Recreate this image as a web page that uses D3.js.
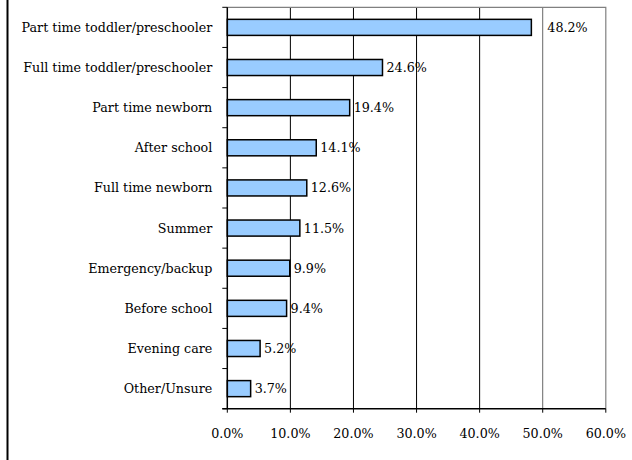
<!DOCTYPE html>
<html><head><meta charset="utf-8">
<script src="https://cdn.jsdelivr.net/npm/d3@7"></script>
<style>body{margin:0;background:#fff}svg{display:block}</style>
</head><body>
<script>
const categories = ["Part time toddler/preschooler","Full time toddler/preschooler","Part time newborn","After school","Full time newborn","Summer","Emergency/backup","Before school","Evening care","Other/Unsure"];
const values = [48.2, 24.6, 19.4, 14.1, 12.6, 11.5, 9.9, 9.4, 5.2, 3.7];
const xTicks = [0, 10, 20, 30, 40, 50, 60];

const W = 632, H = 460;
const m = {left: 227.3, right: 632 - 605.8, top: 7.3, bottom: 460 - 408.7};
const font = "'DejaVu Serif', serif";
const fs = 12.7;

const svg = d3.select("body").append("svg").attr("width", W).attr("height", H);

const x = d3.scaleLinear().domain([0, 60]).range([m.left, W - m.right]);
const y = d3.scaleBand().domain(categories).range([m.top, H - m.bottom]).paddingInner(0.6).paddingOuter(0.3);
const yb = d3.scaleBand().domain(categories).range([m.top, H - m.bottom]);

// left chart border
svg.append("line").attr("x1", 7.5).attr("x2", 7.5).attr("y1", 0).attr("y2", H)
  .attr("stroke", "#000").attr("stroke-width", 2);

// gridlines
svg.append("g").selectAll("line").data(xTicks.filter(d => d > 0 && d < 60)).join("line")
  .attr("x1", d => x(d)).attr("x2", d => x(d))
  .attr("y1", m.top).attr("y2", H - m.bottom)
  .attr("stroke", d => d === 50 ? "#666" : "#000").attr("stroke-width", 1);

// plot border top/right
svg.append("path")
  .attr("d", `M${x(0)},${m.top}H${x(60)}V${H - m.bottom}`)
  .attr("fill", "none").attr("stroke", "#808080").attr("stroke-width", 1.2);

// bars
svg.append("g").selectAll("rect").data(values).join("rect")
  .attr("x", x(0)).attr("y", (d, i) => y(categories[i]))
  .attr("width", d => x(d) - x(0)).attr("height", y.bandwidth())
  .attr("fill", "#99ccff").attr("stroke", "#000").attr("stroke-width", 1.5);

// value labels
const vmax = d3.max(values);
svg.append("g").selectAll("text").data(values).join("text")
  .attr("x", d => x(d) + (d === vmax ? 16 : 4))
  .attr("y", (d, i) => y(categories[i]) + y.bandwidth() / 2)
  .attr("dy", "0.35em")
  .attr("font-family", font).attr("font-size", fs).attr("fill", "#000")
  .text(d => d.toFixed(1) + "%");

// y axis
const yAxis = svg.append("g").attr("transform", `translate(${x(0)},0)`);
yAxis.append("line").attr("x1", 0).attr("x2", 0).attr("y1", m.top).attr("y2", H - m.bottom).attr("stroke", "#000").attr("stroke-width", 1.5);
const yTickPos = categories.map(c => yb(c)).concat([H - m.bottom]);
yAxis.selectAll(".yt").data(yTickPos).join("line").attr("class", "yt")
  .attr("x1", -5).attr("x2", 0).attr("y1", d => d).attr("y2", d => d)
  .attr("stroke", "#000").attr("stroke-width", 1);
yAxis.selectAll("text").data(categories).join("text")
  .attr("x", -15).attr("y", d => yb(d) + yb.bandwidth() / 2).attr("dy", "0.35em")
  .attr("text-anchor", "end").attr("font-family", font).attr("font-size", fs).attr("fill", "#000")
  .text(d => d);

// x axis
const xAxis = svg.append("g").attr("transform", `translate(0,${H - m.bottom})`);
xAxis.append("line").attr("x1", x(0) - 5).attr("x2", x(60)).attr("y1", 0).attr("y2", 0).attr("stroke", "#000").attr("stroke-width", 1.5);
xAxis.selectAll(".xt").data(xTicks).join("line").attr("class", "xt")
  .attr("x1", d => x(d)).attr("x2", d => x(d)).attr("y1", 0).attr("y2", 4)
  .attr("stroke", "#000").attr("stroke-width", 1);
xAxis.selectAll("text").data(xTicks).join("text")
  .attr("x", d => x(d)).attr("y", 24.5).attr("dy", "0.35em")
  .attr("text-anchor", "middle").attr("font-family", font).attr("font-size", fs).attr("fill", "#000")
  .text(d => d.toFixed(1) + "%");
</script>
</body></html>
